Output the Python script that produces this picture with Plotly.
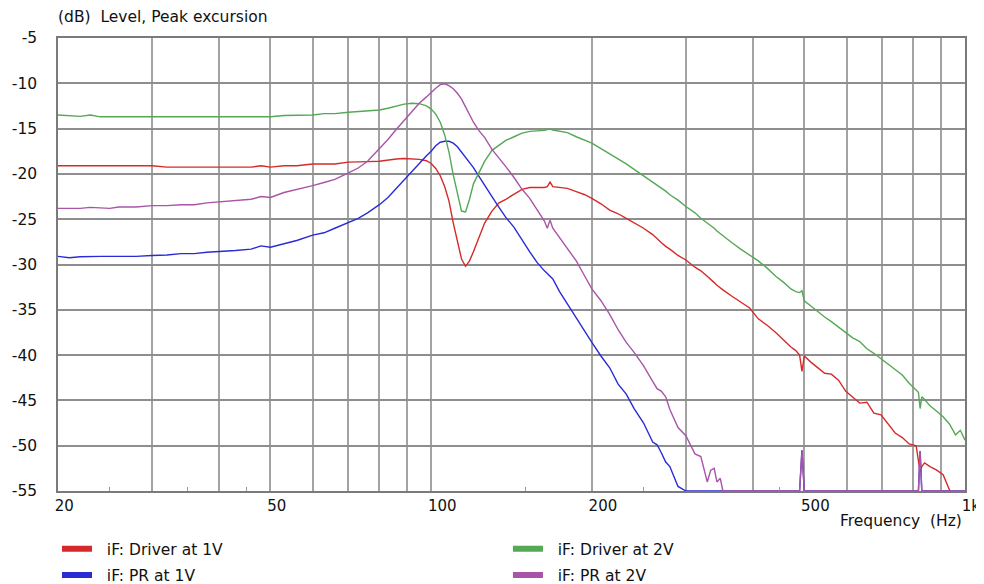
import plotly.graph_objects as go

freq_hz = [20, 21, 22, 23, 24, 25, 26, 28, 30, 32,
           34, 36, 38, 40, 43, 46, 48, 50, 53, 56,
           60, 63, 66, 70, 73, 76, 80, 83, 86, 89,
           92, 95, 98, 100, 102, 104, 106, 108, 110, 112,
           114, 116, 118, 120, 123, 126, 130, 134, 138, 143,
           148, 153, 158, 161, 163, 165, 167, 169, 174, 180,
           187, 194, 200, 208, 216, 224, 232, 240, 250, 260,
           265, 270, 275, 280, 290, 300, 312, 320, 329, 334,
           339, 343, 348, 352, 366, 380, 395, 410, 426, 442,
           458, 472, 482, 490, 495, 500, 515, 530, 546, 562,
           580, 598, 616, 635, 655, 675, 696, 718, 740, 763,
           786, 810, 818, 824, 830, 840, 860, 885, 910, 935,
           960, 980, 1000]

driver_1v = [-19.1, -19.1, -19.1, -19.1, -19.1, -19.1, -19.1, -19.1, -19.1, -19.25,
             -19.25, -19.25, -19.25, -19.25, -19.25, -19.25, -19.1, -19.25, -19.1, -19.1,
             -18.9, -18.9, -18.9, -18.7, -18.7, -18.65, -18.6, -18.45, -18.35, -18.3,
             -18.35, -18.4, -18.55, -18.85, -19.4, -20.2, -21.4, -23.0, -25.4, -27.6,
             -29.4, -30.2, -29.6, -28.6, -26.9, -25.4, -24.1, -23.2, -22.8, -22.2,
             -21.7, -21.5, -21.5, -21.5, -21.5, -21.4, -20.9, -21.4, -21.5, -21.6,
             -21.95, -22.3, -22.7, -23.3, -24.0, -24.4, -24.9, -25.4, -26.0, -26.7,
             -27.2, -27.6, -28.0, -28.3, -29.0, -29.5, -30.3, -30.7, -31.3, -31.6,
             -32.0, -32.3, -32.6, -32.8, -33.5, -34.1, -34.8, -36.0, -36.7, -37.5,
             -38.4, -39.1, -39.5, -40.0, -41.8, -40.1, -40.8, -41.4, -42.0, -42.1,
             -42.8, -44.0, -44.6, -45.3, -45.2, -46.4, -46.6, -47.6, -48.6, -49.1,
             -49.8, -50.0, -51.5, -52.9, -52.3, -51.9, -52.3, -52.7, -53.2, -54.8,
             -56.5, -58.0, -59.0]

pr_1v = [-29.1, -29.25, -29.15, -29.1, -29.1, -29.1, -29.1, -29.1, -29.0, -28.95,
         -28.8, -28.8, -28.65, -28.6, -28.45, -28.3, -27.95, -28.1, -27.7, -27.35,
         -26.75, -26.5, -26.0, -25.4, -24.9, -24.3, -23.4, -22.6, -21.6, -20.7,
         -19.8, -18.8, -18.0, -17.5, -16.9, -16.5, -16.4, -16.4, -16.6, -17.0,
         -17.6, -18.1, -18.7, -19.3, -20.3, -21.2, -22.5, -23.7, -24.8, -25.9,
         -27.3, -28.6, -29.8, -30.4, -30.7, -31.0, -31.3, -31.6, -33.0, -34.4,
         -35.9, -37.4, -38.6, -40.1, -41.4, -43.2, -44.3, -45.9, -47.5, -49.6,
         -49.9, -50.8, -51.8, -52.3, -54.5, -55, -55, -55, -55, -55,
         -55, -55, -55, -55, -55, -55, -55, -55, -55, -55,
         -55, -55, -55, -55, -50.5, -55, -55, -55, -55, -55,
         -55, -55, -55, -55, -55, -55, -55, -55, -55, -55,
         -55, -55, -55, -50.6, -55, -55, -55, -55, -55, -55,
         -55, -55, -55]

driver_2v = [-13.5, -13.55, -13.65, -13.5, -13.7, -13.7, -13.7, -13.7, -13.7, -13.7,
             -13.7, -13.7, -13.7, -13.7, -13.7, -13.7, -13.7, -13.7, -13.55, -13.5,
             -13.5, -13.35, -13.35, -13.2, -13.1, -13.05, -12.95, -12.75, -12.55, -12.3,
             -12.2, -12.25, -12.5, -12.85, -13.4, -14.3, -15.7, -17.6, -20.1, -22.3,
             -24.1, -24.2, -22.8, -21.1, -19.8, -18.6, -17.4, -16.8, -16.3, -15.9,
             -15.5, -15.3, -15.25, -15.2, -15.2, -15.1, -15.05, -15.15, -15.3, -15.45,
             -15.9, -16.3, -16.6, -17.2, -17.8, -18.3, -18.9, -19.5, -20.2, -20.9,
             -21.2, -21.5, -21.9, -22.3, -22.9, -23.6, -24.3, -24.9, -25.4, -25.7,
             -26.0, -26.3, -26.6, -26.8, -27.6, -28.3, -29.0, -29.6, -30.4, -31.3,
             -32.0, -32.7, -33.0, -33.1, -32.9, -34.0, -34.6, -35.2, -35.8, -36.3,
             -36.9, -37.5, -38.1, -38.5, -39.3, -39.8, -40.4, -41.1, -41.6, -42.2,
             -43.1, -43.8, -44.1, -45.9, -44.6, -44.9, -45.6, -46.2, -46.8, -47.6,
             -48.8, -48.3, -49.4]

pr_2v = [-23.8, -23.8, -23.8, -23.7, -23.75, -23.8, -23.65, -23.65, -23.5, -23.5,
         -23.4, -23.4, -23.2, -23.1, -22.9, -22.8, -22.5, -22.6, -22.05, -21.75,
         -21.3, -20.95, -20.6, -19.9, -19.35, -18.6, -17.2, -16.2, -15.1, -14.1,
         -13.1, -12.2, -11.5, -11.0, -10.55, -10.15, -10.05, -10.25, -10.6, -11.1,
         -11.75, -12.6, -13.5, -14.3, -15.25, -16.0, -17.3, -18.2, -19.2, -20.4,
         -21.7, -22.7, -24.0, -24.7, -25.2, -26.0, -25.1, -26.0, -27.0, -28.2,
         -29.6, -31.3, -32.7, -34.0, -35.5, -37.2, -38.6, -39.7, -41.2, -42.9,
         -43.7, -44.0, -44.6, -46.0, -48.0, -48.9, -50.9, -51.2, -54.0, -52.7,
         -52.5, -54.0, -53.6, -55, -55, -55, -55, -55, -55, -55,
         -55, -55, -55, -55, -50.5, -55, -55, -55, -55, -55,
         -55, -55, -55, -55, -55, -55, -55, -55, -55, -55,
         -55, -55, -55, -50.6, -55, -55, -55, -55, -55, -55,
         -55, -55, -55]

series_names = ["iF: Driver at 1V", "iF: PR at 1V", "iF: Driver at 2V", "iF: PR at 2V"]
series_colors = ["#d62a2a", "#2b2bd6", "#55a855", "#a855a8"]
series_values = [driver_1v, pr_1v, driver_2v, pr_2v]
legend_ids = ["legend", "legend2", "legend3", "legend4"]

x_grid_vals = [30, 40, 50, 60, 70, 80, 90, 100, 200, 300, 400, 500, 600, 700, 800, 900]
x_label_vals = [20, 50, 100, 200, 500, 1000]
x_label_text = ["20", "50", "100", "200", "500", "1k"]
x_minor_vals = [25, 35, 45, 150, 250, 450]
y_tick_vals = [-5, -10, -15, -20, -25, -30, -35, -40, -45, -50, -55]
y_tick_text = ["-5", "-10", "-15", "-20", "-25", "-30", "-35", "-40", "-45", "-50", "-55"]

FONT = "DejaVu Sans, Verdana, sans-serif"
FS = 15.5
NB = "\u00a0"

fig = go.Figure()
for name, color, vals in zip(series_names, series_colors, series_values):
    fig.add_trace(go.Scatter(x=freq_hz, y=vals, mode="lines", name=name,
                             line=dict(color=color, width=1.4), showlegend=False,
                             hoverinfo="skip"))
# legend swatches (thick bars as in the reference)
for name, color, lg in zip(series_names, series_colors, legend_ids):
    fig.add_trace(go.Scatter(x=[None], y=[None], mode="lines", name=NB + NB + name,
                             line=dict(color=color, width=6), legend=lg))

tick_vals_all = sorted(set(x_grid_vals + x_label_vals))
tick_text_all = [x_label_text[x_label_vals.index(v)] if v in x_label_vals else "" for v in tick_vals_all]

fig.update_xaxes(type="log", range=[1.30103, 3.0],
                 tickmode="array", tickvals=tick_vals_all, ticktext=tick_text_all,
                 ticklabelposition="outside right", ticklabeloverflow="allow",
                 ticklabelshift=-4,
                 ticks="", showgrid=True, gridcolor="#a3a3a3", gridwidth=1.5,
                 showline=True, linecolor="#7a7a7a", linewidth=1.5, mirror=True,
                 zeroline=False, tickfont=dict(family=FONT, size=15, color="#111"),
                 minor=dict(tickvals=x_minor_vals, ticks="inside", ticklen=4,
                            tickcolor="#999", tickwidth=1, showgrid=False))
fig.update_yaxes(range=[-55, -5], tickmode="array", tickvals=y_tick_vals, ticktext=y_tick_text,
                 ticks="", ticklabelstandoff=16,
                 showgrid=True, gridcolor="#8e8e8e", gridwidth=1.5,
                 showline=True, linecolor="#7a7a7a", linewidth=1.5, mirror=True,
                 zeroline=False, tickfont=dict(family=FONT, size=FS, color="#111"))

fig.add_shape(type="line", xref="x", yref="paper", x0=100, x1=100, y0=0, y1=1,
              line=dict(color="#7a7a7a", width=1.5), layer="below")

fig.add_annotation(text="(dB)" + NB + NB + "Level, Peak excursion", xref="paper", yref="paper",
                   x=-0.002, y=1.047, xanchor="left", yanchor="middle", showarrow=False,
                   font=dict(family=FONT, size=FS, color="#111"))
fig.add_annotation(text="Frequency" + NB + NB + "(Hz)", xref="paper", yref="paper",
                   x=0.999, y=-0.066, xanchor="right", yanchor="middle", showarrow=False,
                   font=dict(family=FONT, size=FS, color="#111"))

legend_common = dict(orientation="h", xanchor="left", yanchor="middle",
                     bgcolor="rgba(0,0,0,0)", borderwidth=0,
                     font=dict(family=FONT, size=FS, color="#111"),
                     itemclick=False, itemdoubleclick=False)
leg_x = [-0.0011, -0.0011, 0.4961, 0.4961]
leg_y = [-0.1285, -0.1865, -0.1285, -0.1865]
legends = {lid: dict(x=lx, y=ly, **legend_common) for lid, lx, ly in zip(legend_ids, leg_x, leg_y)}

# the page body adds an 8px offset; the figure is sized to fit the window exactly
# and margins place the plot area where the reference has it
fig.update_layout(
    width=976, height=576,
    margin=dict(l=50, r=19, t=30, b=93, autoexpand=False),
    paper_bgcolor="white", plot_bgcolor="white",
    font=dict(family=FONT, size=FS, color="#111"),
    showlegend=True,
    **legends,
)

fig.write_html("out.html")
